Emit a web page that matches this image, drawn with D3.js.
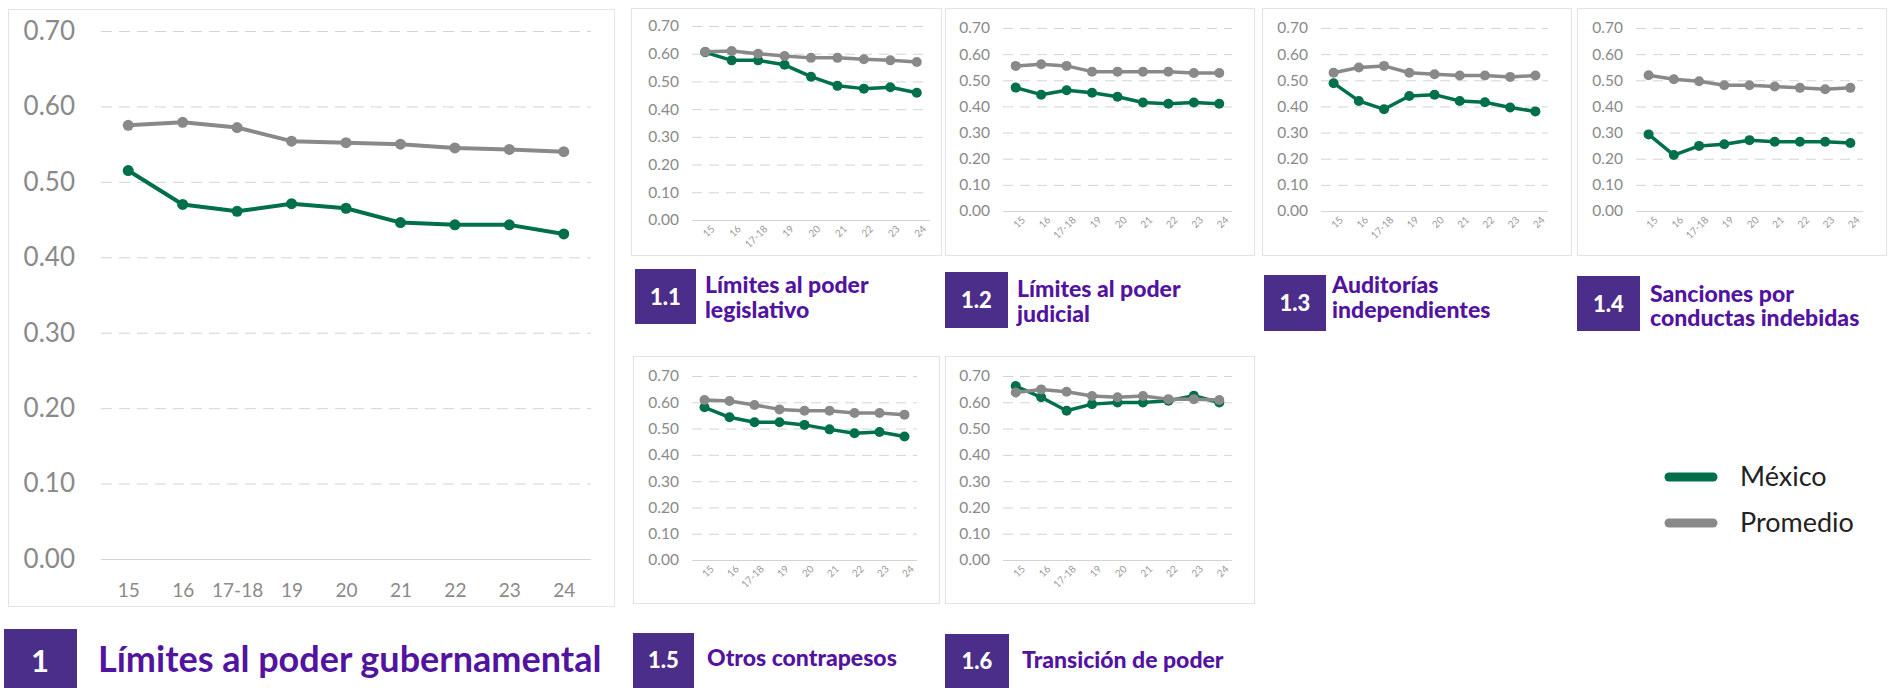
<!DOCTYPE html>
<html>
<head>
<meta charset="utf-8">
<script src="https://cdn.jsdelivr.net/npm/d3@7"></script>
<style>
  html, body { margin: 0; padding: 0; background: #fff; }
  svg { display: block; font-family: Lato, "Open Sans", sans-serif; }
</style>
</head>
<body>
<svg id="chart" width="1889" height="688"></svg>
<script>
// ---------- DATA ----------
const years = ["15", "16", "17-18", "19", "20", "21", "22", "23", "24"];
const yTicks = [0, 0.1, 0.2, 0.3, 0.4, 0.5, 0.6, 0.7];
const seriesNames = ["México", "Promedio"];

const mainMexico   = [0.515, 0.470, 0.461, 0.471, 0.465, 0.446, 0.443, 0.443, 0.431];
const mainPromedio = [0.575, 0.579, 0.572, 0.554, 0.552, 0.550, 0.545, 0.543, 0.540];

const s11Mexico   = [0.605, 0.576, 0.576, 0.560, 0.517, 0.484, 0.474, 0.479, 0.459];
const s11Promedio = [0.607, 0.610, 0.600, 0.592, 0.585, 0.585, 0.580, 0.576, 0.570];
const s12Mexico   = [0.472, 0.445, 0.462, 0.452, 0.437, 0.415, 0.410, 0.415, 0.410];
const s12Promedio = [0.555, 0.561, 0.555, 0.533, 0.533, 0.533, 0.533, 0.528, 0.528];
const s13Mexico   = [0.489, 0.421, 0.389, 0.440, 0.445, 0.421, 0.416, 0.396, 0.381];
const s13Promedio = [0.529, 0.549, 0.555, 0.529, 0.523, 0.518, 0.518, 0.513, 0.518];
const s14Mexico   = [0.293, 0.214, 0.249, 0.255, 0.271, 0.265, 0.265, 0.265, 0.260];
const s14Promedio = [0.519, 0.504, 0.496, 0.481, 0.481, 0.476, 0.471, 0.466, 0.471];
const s15Mexico   = [0.581, 0.543, 0.524, 0.524, 0.514, 0.497, 0.482, 0.487, 0.470];
const s15Promedio = [0.609, 0.605, 0.590, 0.573, 0.568, 0.568, 0.559, 0.559, 0.553];
const s16Mexico   = [0.662, 0.619, 0.568, 0.593, 0.599, 0.599, 0.606, 0.625, 0.599];
const s16Promedio = [0.637, 0.649, 0.640, 0.624, 0.619, 0.624, 0.612, 0.612, 0.609];

const mainNumber = "1";
const mainTitle = "Límites al poder gubernamental";
const subNumbers = ["1.1", "1.2", "1.3", "1.4", "1.5", "1.6"];
const subTitles = [
  ["Límites al poder", "legislativo"],
  ["Límites al poder", "judicial"],
  ["Auditorías", "independientes"],
  ["Sanciones por", "conductas indebidas"],
  ["Otros contrapesos"],
  ["Transición de poder"]
];
const subMexico = [s11Mexico, s12Mexico, s13Mexico, s14Mexico, s15Mexico, s16Mexico];
const subPromedio = [s11Promedio, s12Promedio, s13Promedio, s14Promedio, s15Promedio, s16Promedio];

// ---------- STYLE / LAYOUT ----------
const GREEN = "#00704A";
const GREY = "#898989";
const BOX = "#4B2D8A";
const TITLE = "#5214A0";

const svg = d3.select("#chart");

const subLayout = [
  {box:[631,8,310,247],  gx:[692,930],  gy:[26,220],  tb:[635,269,61,55],  tx:705,  tl:[293,318]},
  {box:[945,8,309,247],  gx:[1003,1232],gy:[28,211],  tb:[945,272,63,56],  tx:1017, tl:[297,322]},
  {box:[1262,8,309,247], gx:[1321,1548],gy:[28,211],  tb:[1264,275,62,56], tx:1332, tl:[293,318]},
  {box:[1577,8,309,247], gx:[1636,1863],gy:[28,211],  tb:[1577,276,63,55], tx:1650, tl:[302,326]},
  {box:[633,356,306,247],gx:[692,917],  gy:[376,560], tb:[633,633,61,60],  tx:707,  tl:[666]},
  {box:[945,356,309,247],gx:[1003,1232],gy:[376,560], tb:[945,634,64,60],  tx:1022, tl:[668]}
];

function drawPanel(cfg, mex, prom, opts) {
  const g = svg.append("g");
  g.append("rect")
    .attr("x", cfg.box[0] + 0.5).attr("y", cfg.box[1] + 0.5)
    .attr("width", cfg.box[2]).attr("height", cfg.box[3])
    .attr("fill", "#fff").attr("stroke", "#e3e3e3").attr("stroke-width", 1);

  const x = d3.scalePoint().domain(years).range(cfg.gx).padding(0.5);
  const y = d3.scaleLinear().domain([0, 0.7]).range([cfg.gy[1], cfg.gy[0]]);

  const yAxis = d3.axisLeft(y).tickValues(yTicks)
    .tickSize(-(cfg.gx[1] - cfg.gx[0]))
    .tickPadding(opts.yPad)
    .tickFormat(d3.format(".2f"));
  const ya = g.append("g").attr("transform", `translate(${cfg.gx[0]},0)`).call(yAxis);
  ya.select(".domain").remove();
  ya.selectAll(".tick line")
    .attr("stroke", "#d4d4d4").attr("stroke-width", 1)
    .attr("stroke-dasharray", d => d === 0 ? null : opts.dash);
  ya.selectAll(".tick text")
    .attr("fill", "#8a8a8a").style("font-size", opts.yFont + "px")
    .style("font-family", "Lato, sans-serif");

  const xAxis = d3.axisBottom(x).tickSize(0).tickPadding(opts.xPad);
  const xa = g.append("g").attr("transform", `translate(0,${cfg.gy[1]})`).call(xAxis);
  xa.select(".domain").remove();
  xa.selectAll(".tick text")
    .attr("fill", opts.rotate ? "#9a9a9a" : "#8a8a8a").style("font-size", opts.xFont + "px")
    .style("font-family", "Lato, sans-serif");
  if (opts.rotate) {
    xa.selectAll(".tick text")
      .attr("text-anchor", "end")
      .attr("dy", "0.35em")
      .attr("y", opts.xPad)
      .attr("x", 0)
      .attr("transform", `rotate(-45)`);
  }

  const line = d3.line().x((d, i) => x(years[i])).y(d => y(d));
  const series = [{v: mex, c: GREEN}, {v: prom, c: GREY}];
  series.forEach(s => {
    g.append("path").datum(s.v)
      .attr("d", line).attr("fill", "none")
      .attr("stroke", s.c).attr("stroke-width", opts.lw)
      .attr("stroke-linejoin", "round");
    g.selectAll(null).data(s.v).enter().append("circle")
      .attr("cx", (d, i) => x(years[i])).attr("cy", d => y(d))
      .attr("r", opts.r).attr("fill", s.c);
  });
}

drawPanel({box:[8,9,606,597], gx:[101,591], gy:[31,559]}, mainMexico, mainPromedio,
  {yPad: 26, yFont: 26, xFont: 19, xPad: 25, dash: "11,7", lw: 4, r: 5.5, rotate: false});

subLayout.forEach((cfg, i) => {
  drawPanel(cfg, subMexico[i], subPromedio[i],
    {yPad: 13, yFont: 15.5, xFont: 10, xPad: 10, dash: "10,7", lw: 3.5, r: 5, rotate: true});
  svg.append("rect").attr("x", cfg.tb[0]).attr("y", cfg.tb[1])
    .attr("width", cfg.tb[2]).attr("height", cfg.tb[3]).attr("fill", BOX);
  svg.append("text").attr("x", cfg.tb[0] + cfg.tb[2] / 2)
    .attr("y", cfg.tb[1] + (cfg.tl.length === 1 ? 35 : cfg.tb[3] / 2 + 8))
    .attr("text-anchor", "middle").attr("fill", "#fff")
    .style("font-size", "22px").style("font-weight", 900)
    .text(subNumbers[i]);
  subTitles[i].forEach((t, k) => {
    svg.append("text").attr("x", cfg.tx).attr("y", cfg.tl[k])
      .attr("fill", TITLE).style("font-size", "23px").style("font-weight", 900)
      .text(t);
  });
});

svg.append("rect").attr("x", 4).attr("y", 629).attr("width", 73).attr("height", 60).attr("fill", BOX);
svg.append("text").attr("x", 40).attr("y", 672).attr("text-anchor", "middle")
  .attr("fill", "#fff").style("font-size", "31px").style("font-weight", 700).text(mainNumber);
svg.append("text").attr("x", 98).attr("y", 672)
  .attr("fill", TITLE).style("font-size", "36px").style("font-weight", 700).text(mainTitle);

const legendColors = [GREEN, GREY];
const legendY = [477, 523];
seriesNames.forEach((n, i) => {
  svg.append("line").attr("x1", 1669).attr("x2", 1713)
    .attr("y1", legendY[i]).attr("y2", legendY[i])
    .attr("stroke", legendColors[i]).attr("stroke-width", 9).attr("stroke-linecap", "round");
  svg.append("text").attr("x", 1740).attr("y", legendY[i] + 9)
    .attr("fill", "#222").style("font-size", "27px").text(n);
});
</script>
</body>
</html>
